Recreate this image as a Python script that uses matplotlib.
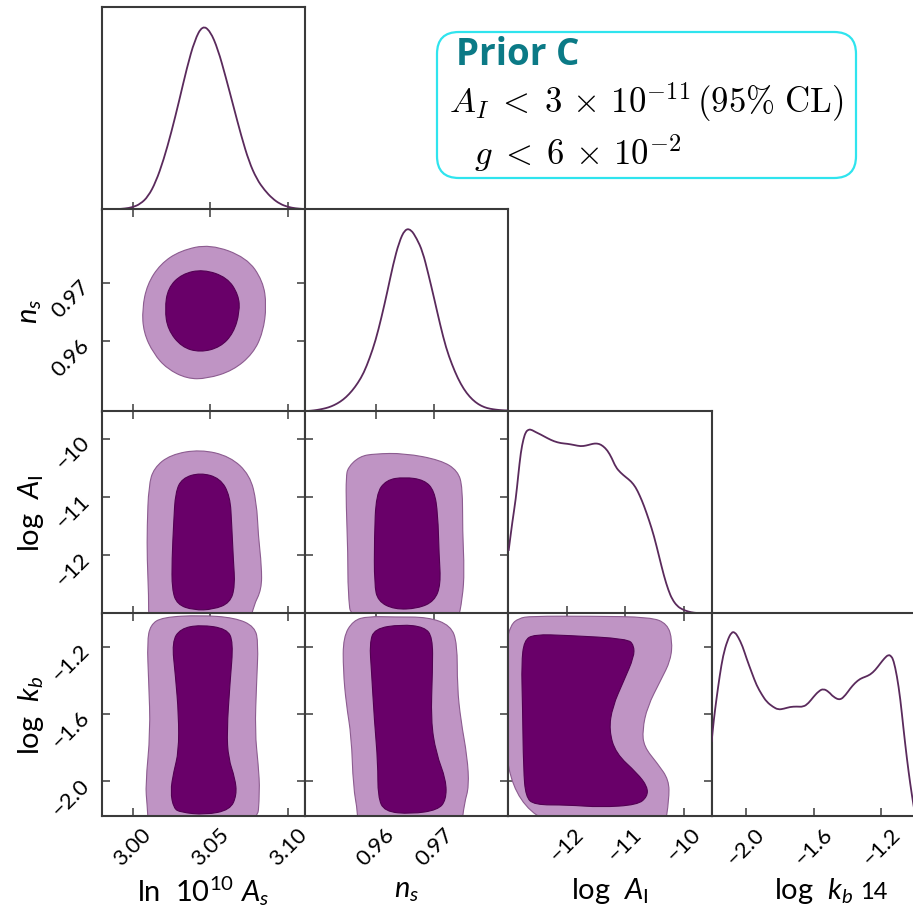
import numpy as np
import matplotlib
matplotlib.use("Agg")
import matplotlib.pyplot as plt
from matplotlib.path import Path
from matplotlib.patches import PathPatch, FancyBboxPatch

# ------------------------------------------------------------------ data
lim_As = (2.980, 3.111)
lim_ns = (0.948, 0.9826)
lim_AI = (-13.0, -9.52)
lim_kb = (-2.203, -1.0)

ticks_As = [3.00, 3.05, 3.10]
ticklabels_As = ["3.00", "3.05", "3.10"]
ticks_ns = [0.96, 0.97]
ticklabels_ns = ["0.96", "0.97"]
ticks_AI = [-12, -11, -10]
ticklabels_AI = ["\u221212", "\u221211", "\u221210"]
ticks_kb = [-2.0, -1.6, -1.2]
ticklabels_kb = ["\u22122.0", "\u22121.6", "\u22121.2"]

xlabels = ["ln  $10^{10}\\ A_s$", "$n_s$", "log  $A_{\\mathrm{I}}$", "log  $k_b$"]
ylabels = ["", "$n_s$", "log  $A_{\\mathrm{I}}$", "log  $k_b$"]

# 1D marginals (normalised to peak = 1)
As_x = [2.980, 2.985, 2.990, 2.995, 3.000, 3.005, 3.010, 3.015, 3.020, 3.025,
        3.030, 3.035, 3.040, 3.045, 3.050, 3.055, 3.060, 3.065, 3.070, 3.075,
        3.080, 3.085, 3.090, 3.095, 3.100, 3.105, 3.110]
As_p = [0.0, 0.001, 0.002, 0.005, 0.012, 0.03, 0.07, 0.15, 0.27, 0.42,
        0.59, 0.77, 0.92, 1.00, 0.97, 0.87, 0.72, 0.56, 0.40, 0.26,
        0.165, 0.105, 0.06, 0.03, 0.014, 0.006, 0.003]

ns_x = [0.948, 0.949, 0.950, 0.951, 0.952, 0.953, 0.954, 0.955, 0.956, 0.957,
        0.958, 0.959, 0.960, 0.961, 0.962, 0.963, 0.964, 0.965, 0.966, 0.967,
        0.968, 0.969, 0.970, 0.971, 0.972, 0.973, 0.974, 0.975, 0.976, 0.977,
        0.978, 0.979, 0.980, 0.981, 0.982, 0.983]
ns_p = [0.002, 0.004, 0.008, 0.014, 0.022, 0.035, 0.053, 0.078, 0.112, 0.155,
        0.210, 0.290, 0.385, 0.510, 0.650, 0.800, 0.920, 0.990, 0.990, 0.940,
        0.870, 0.745, 0.610, 0.470, 0.345, 0.255, 0.180, 0.122, 0.080, 0.050,
        0.030, 0.018, 0.012, 0.008, 0.006, 0.005]

AI_x = [-12.995, -12.93, -12.872, -12.83, -12.786, -12.74, -12.701, -12.66, -12.615,
        -12.53, -12.444, -12.33, -12.217, -12.10, -11.988, -11.87, -11.761, -11.67,
        -11.590, -11.52, -11.448, -11.38, -11.304, -11.23, -11.162, -11.08, -10.991,
        -10.90, -10.821, -10.75, -10.679, -10.59, -10.508, -10.42, -10.337, -10.26,
        -10.194, -10.11, -10.023, -9.92, -9.825, -9.70, -9.538]
AI_p = [0.34, 0.50, 0.622, 0.75, 0.877, 0.95, 0.986, 0.998, 1.0,
        0.985, 0.972, 0.952, 0.935, 0.925, 0.922, 0.915, 0.908, 0.912,
        0.919, 0.924, 0.922, 0.91, 0.886, 0.845, 0.795, 0.765, 0.741,
        0.718, 0.686, 0.640, 0.586, 0.505, 0.422, 0.31, 0.204, 0.125,
        0.076, 0.04, 0.022, 0.01, 0.004, 0.001, 0.0]

kb_x = [-2.203, -2.19, -2.174, -2.155, -2.135, -2.11, -2.085, -2.065, -2.046, -2.02,
        -1.996, -1.965, -1.937, -1.905, -1.877, -1.84, -1.809, -1.775, -1.739, -1.70,
        -1.660, -1.63, -1.601, -1.57, -1.542, -1.51, -1.483, -1.443, -1.41, -1.384,
        -1.355, -1.324, -1.295, -1.265, -1.235, -1.206, -1.18, -1.157, -1.14, -1.127,
        -1.107, -1.087, -1.068, -1.048, -1.028, -1.009, -1.0]
kb_p = [0.40, 0.52, 0.635, 0.76, 0.870, 0.95, 0.997, 0.995, 0.970, 0.92,
        0.852, 0.775, 0.707, 0.655, 0.617, 0.590, 0.575, 0.580, 0.590, 0.592,
        0.590, 0.610, 0.644, 0.675, 0.689, 0.672, 0.644, 0.626, 0.655, 0.689,
        0.720, 0.743, 0.753, 0.765, 0.790, 0.825, 0.855, 0.874, 0.865, 0.843,
        0.76, 0.635, 0.47, 0.309, 0.17, 0.056, 0.01]

# 2D credible-region outlines (68% and 95%)
c95_As_ns_x = [3.0500, 3.0735, 3.0840, 3.0863, 3.0840, 3.0776, 3.0647, 3.0479,
               3.0351, 3.0222, 3.0135, 3.0071, 3.0062, 3.0094, 3.0179, 3.0308]
c95_As_ns_y = [0.9766, 0.9743, 0.9703, 0.9661, 0.9615, 0.9579, 0.9550, 0.9536,
               0.9536, 0.9553, 0.9579, 0.9615, 0.9655, 0.9697, 0.9732, 0.9755]
c68_As_ns_x = [3.0455, 3.0610, 3.0683, 3.0690, 3.0650, 3.0566, 3.0436, 3.0316,
               3.0227, 3.0208, 3.0228, 3.0317]
c68_As_ns_y = [0.9723, 0.9709, 0.9679, 0.9650, 0.9614, 0.9590, 0.9581, 0.9590,
               0.9620, 0.9655, 0.9691, 0.9715]

c95_As_AI_x = [3.0436, 3.0628, 3.0756, 3.0799, 3.0810, 3.0831, 3.0831, 3.0778,
               3.0756, 3.0103, 3.0104, 3.0094, 3.0094, 3.0104, 3.0137, 3.0244]
c95_As_AI_y = [-10.18, -10.30, -10.62, -11.091, -11.667, -12.184, -12.586, -12.874,
               -13.19, -13.19, -12.702, -12.069, -11.495, -10.805, -10.50, -10.27]
c68_As_AI_x = [3.0436, 3.0564, 3.0628, 3.0639, 3.0649, 3.0660, 3.0628, 3.0521,
               3.0393, 3.0287, 3.0254, 3.0254, 3.0265, 3.0276, 3.0319]
c68_As_AI_y = [-10.58, -10.675, -10.978, -11.495, -12.069, -12.529, -12.816, -12.931,
               -12.943, -12.845, -12.586, -12.069, -11.436, -10.919, -10.675]

c95_As_kb_x = [3.0436, 3.0660, 3.0788, 3.0810, 3.0799, 3.0788, 3.0810, 3.0820, 3.0801,
               3.0103, 3.0094, 3.0083, 3.0115, 3.0104, 3.0094, 3.0115, 3.0192]
c95_As_kb_y = [-1.013, -1.028, -1.081, -1.182, -1.409, -1.705, -1.903, -2.061, -2.279,
               -2.279, -2.140, -2.022, -1.705, -1.409, -1.172, -1.070, -1.025]
c68_As_kb_x = [3.0436, 3.0607, 3.0649, 3.0628, 3.0607, 3.0617, 3.0660, 3.0671, 3.0628,
               3.0468, 3.0308, 3.0265, 3.0244, 3.0265, 3.0297, 3.0297, 3.0276, 3.0254,
               3.0308]
c68_As_kb_y = [-1.070, -1.093, -1.172, -1.409, -1.705, -1.864, -1.982, -2.081, -2.170,
               -2.199, -2.184, -2.160, -2.061, -1.943, -1.824, -1.607, -1.370, -1.172,
               -1.093]

c95_ns_AI_x = [0.9553, 0.9573, 0.9598, 0.9649, 0.9711, 0.9740, 0.9748, 0.9748,
               0.9751, 0.9748, 0.9739, 0.9559, 0.9553, 0.9553, 0.9550, 0.9550]
c95_ns_AI_y = [-10.488, -10.300, -10.255, -10.245, -10.364, -10.547, -10.833, -11.581,
               -12.271, -12.729, -13.19, -13.19, -12.616, -11.983, -11.121, -10.660]
c68_ns_AI_x = [0.9649, 0.9683, 0.9700, 0.9706, 0.9708, 0.9711, 0.9700, 0.9672,
               0.9632, 0.9604, 0.9598, 0.9598, 0.9601, 0.9618]
c68_ns_AI_y = [-10.655, -10.705, -10.891, -11.293, -11.983, -12.500, -12.788, -12.914,
               -12.931, -12.788, -12.500, -11.695, -10.948, -10.705]

c95_ns_kb_x = [0.9632, 0.9689, 0.9728, 0.9739, 0.9739, 0.9745, 0.9756, 0.9759, 0.9751,
               0.9746, 0.9569, 0.9570, 0.9562, 0.9559, 0.9550, 0.9545, 0.9545, 0.9562,
               0.9587]
c95_ns_kb_y = [-1.024, -1.024, -1.074, -1.182, -1.439, -1.637, -1.854, -2.031, -2.130,
               -2.279, -2.279, -2.190, -2.031, -1.735, -1.538, -1.340, -1.143, -1.044,
               -1.020]
c68_ns_kb_x = [0.9644, 0.9683, 0.9697, 0.9697, 0.9694, 0.9703, 0.9720, 0.9720, 0.9706,
               0.9661, 0.9615, 0.9604, 0.9604, 0.9598, 0.9593, 0.9590, 0.9598]
c68_ns_kb_y = [-1.068, -1.083, -1.143, -1.340, -1.637, -1.834, -1.992, -2.111, -2.170,
               -2.194, -2.180, -2.091, -1.893, -1.637, -1.340, -1.182, -1.093]

c95_AI_kb_x = [-13.04, -12.957, -12.821, -12.615, -11.590, -10.564, -10.279, -10.193,
               -10.222, -10.393, -10.621, -10.706, -10.679, -10.450, -10.251, -10.251,
               -10.325, -13.04]
c95_AI_kb_y = [-1.182, -1.070, -1.031, -1.019, -1.019, -1.024, -1.064, -1.163,
               -1.281, -1.400, -1.557, -1.696, -1.794, -1.893, -1.992, -2.111,
               -2.279, -2.279]
c68_AI_kb_x = [-12.730, -12.559, -11.988, -10.962, -10.850, -10.850, -11.021, -11.219,
               -11.277, -11.162, -10.791, -10.621, -10.621, -10.791, -11.419, -11.988,
               -12.559, -12.701, -12.740, -12.757, -12.774]
c68_AI_kb_y = [-1.163, -1.127, -1.133, -1.153, -1.192, -1.261, -1.400, -1.557,
               -1.696, -1.834, -1.953, -2.031, -2.091, -2.140, -2.154, -2.140,
               -2.140, -2.091, -1.933, -1.538, -1.301]

legend_title = "Prior C"
legend_line1 = r"$A_I\;<\;3\,\times\,10^{-11}\,(95\%\ \mathrm{CL})$"
legend_line2 = r"$g\;<\;6\,\times\,10^{-2}$"
page_number = "14"

# ------------------------------------------------------------------ style
plt.rcParams['font.family'] = ['Lato', 'DejaVu Sans']
plt.rcParams['mathtext.fontset'] = 'custom'
plt.rcParams['mathtext.rm'] = 'Lato'
plt.rcParams['mathtext.it'] = 'Lato:italic'
plt.rcParams['mathtext.bf'] = 'Lato:bold'

DARK = "#690069"
LIGHT = "#bf94c4"
DARK_EDGE = "#520052"
LIGHT_EDGE = "#8c5c90"
LINE = "#5a2a5c"
FRAME = "#3a3a3a"

W, H = 913, 912
fig = plt.figure(figsize=(W / 100, H / 100), dpi=100)
col_left = [101.5, 305.0, 508.3, 711.6]
row_top = [8.0, 210.0, 412.0, 614.0]
pw, ph = 203.4, 202.5

lims = [lim_As, lim_ns, lim_AI, lim_kb]
ticks = [ticks_As, ticks_ns, ticks_AI, ticks_kb]
ticklabels = [ticklabels_As, ticklabels_ns, ticklabels_AI, ticklabels_kb]
marg = [(As_x, As_p), (ns_x, ns_p), (AI_x, AI_p), (kb_x, kb_p)]
contours = {
    (1, 0): (c95_As_ns_x, c95_As_ns_y, c68_As_ns_x, c68_As_ns_y),
    (2, 0): (c95_As_AI_x, c95_As_AI_y, c68_As_AI_x, c68_As_AI_y),
    (3, 0): (c95_As_kb_x, c95_As_kb_y, c68_As_kb_x, c68_As_kb_y),
    (2, 1): (c95_ns_AI_x, c95_ns_AI_y, c68_ns_AI_x, c68_ns_AI_y),
    (3, 1): (c95_ns_kb_x, c95_ns_kb_y, c68_ns_kb_x, c68_ns_kb_y),
    (3, 2): (c95_AI_kb_x, c95_AI_kb_y, c68_AI_kb_x, c68_AI_kb_y),
}


def smooth_closed_path(xs, ys):
    pts = np.column_stack([xs, ys]).astype(float)
    mids = (pts + np.roll(pts, -1, axis=0)) / 2.0
    verts = [mids[-1]]
    codes = [Path.MOVETO]
    for i in range(len(pts)):
        verts += [pts[i], mids[i]]
        codes += [Path.CURVE3, Path.CURVE3]
    verts.append(mids[-1])
    codes.append(Path.CLOSEPOLY)
    return Path(verts, codes)


def smooth_open_path(xs, ys):
    pts = np.column_stack([xs, ys]).astype(float)
    mids = (pts[:-1] + pts[1:]) / 2.0
    verts = [pts[0], mids[0]]
    codes = [Path.MOVETO, Path.LINETO]
    for i in range(1, len(pts) - 1):
        verts += [pts[i], mids[i]]
        codes += [Path.CURVE3, Path.CURVE3]
    verts.append(pts[-1])
    codes.append(Path.LINETO)
    return Path(verts, codes)


def style_frame(ax):
    for s in ax.spines.values():
        s.set_linewidth(1.5)
        s.set_color(FRAME)


TICKFS = 16
LABELFS = 21

for r in range(4):
    for c in range(r + 1):
        ax = fig.add_axes([col_left[c] / W, 1 - (row_top[r] + ph) / H, pw / W, ph / H])
        style_frame(ax)
        ax.set_xlim(*lims[c])
        ax.set_xticks(ticks[c])
        if r == c:
            x, p = marg[c]
            ax.add_patch(PathPatch(smooth_open_path(x, p), facecolor='none',
                                   edgecolor=LINE, lw=1.3, zorder=3))
            ax.set_ylim(0, 1.1)
            ax.set_yticks([])
            ax.tick_params(axis='x', direction='in', length=6, width=1.1,
                           color=FRAME, top=False, bottom=True)
        else:
            ax.set_ylim(*lims[r])
            ax.set_yticks(ticks[r])
            x95, y95, x68, y68 = contours[(r, c)]
            ax.add_patch(PathPatch(smooth_closed_path(x95, y95), facecolor=LIGHT,
                                   edgecolor=LIGHT_EDGE, lw=0.8, zorder=2))
            ax.add_patch(PathPatch(smooth_closed_path(x68, y68), facecolor=DARK,
                                   edgecolor=DARK_EDGE, lw=0.8, zorder=3))
            ax.tick_params(axis='both', direction='in', length=6, width=1.1,
                           color=FRAME, top=True, right=True, bottom=True, left=True)
            if c == 0:
                ax.set_yticklabels(ticklabels[r], fontsize=TICKFS, rotation=45,
                                   ha='right', va='center', rotation_mode='anchor')
                ax.tick_params(axis='y', pad=11)
                ax.set_ylabel(ylabels[r], fontsize=LABELFS, va='center')
                ax.yaxis.set_label_coords(-0.345, 0.5)
            else:
                ax.set_yticklabels([])
        if r == 3:
            ax.set_xticklabels(ticklabels[c], fontsize=TICKFS, rotation=45, ha='center')
            ax.tick_params(axis='x', pad=6)
            ax.set_xlabel(xlabels[c], fontsize=LABELFS, va='center')
            ax.xaxis.set_label_coords(0.5, -0.37)
        else:
            ax.set_xticklabels([])

# page number next to the last label
fig.text(874 / W, 1 - 893 / H, page_number, fontsize=17, ha='center', va='center')

# summary box
box = FancyBboxPatch((437 / W, 1 - 179 / H), (856 - 437) / W, (179 - 33) / H,
                     boxstyle="round,pad=0,rounding_size=0.024",
                     transform=fig.transFigure, facecolor='white',
                     edgecolor='#2fe4ee', lw=1.6, zorder=5)
fig.add_artist(box)
fig.text(456 / W, 1 - 65 / H, legend_title, fontsize=26.5, fontweight='bold',
         family=['Open Sans', 'DejaVu Sans'], color='#0b7a86',
         ha='left', va='baseline', zorder=6)
fig.text(449 / W, 1 - 113 / H, legend_line1, fontsize=25, math_fontfamily='cm',
         ha='left', va='baseline', zorder=6)
fig.text(474 / W, 1 - 165 / H, legend_line2, fontsize=25, math_fontfamily='cm',
         ha='left', va='baseline', zorder=6)

fig.savefig("out.png", dpi=100, facecolor='white')
